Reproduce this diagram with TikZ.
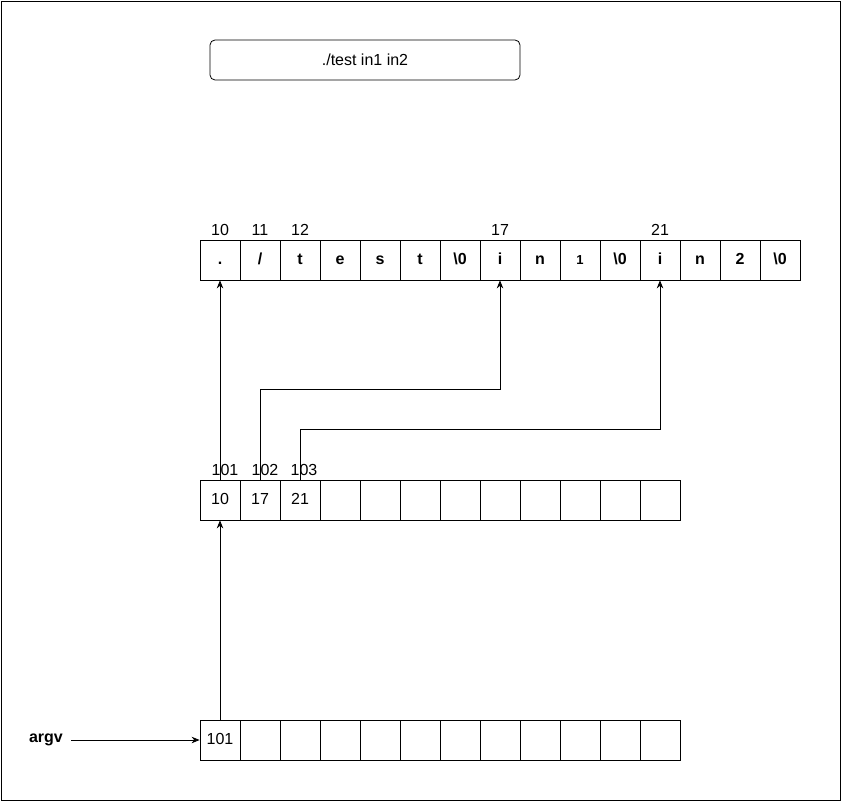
\documentclass[tikz,border=0pt]{standalone}
\usepackage{fontspec}
\setmainfont{Liberation Sans}
\usetikzlibrary{arrows.meta}
\begin{document}
\begin{tikzpicture}[x=1pt,y=-1pt,
  fnt/.style={font=\fontsize{16}{18}\selectfont},
  cell/.style={draw,line width=0.8pt,minimum width=40pt,minimum height=40pt,inner sep=0pt,text height=11.5pt,text depth=3.5pt,fnt},
  bcell/.style={cell,font=\fontsize{16}{18}\selectfont\bfseries},
  lbl/.style={inner sep=0pt,fnt},
  arr/.style={-{Stealth[length=8pt,width=6.5pt]},line width=0.8pt}]
\useasboundingbox (0,0) rectangle (842,802);
\draw[line width=0.8pt] (1,1) rectangle (840,800);
\node[draw,line width=0.8pt,rounded corners=5pt,minimum width=310pt,minimum height=40pt,fnt] (cmd) at (365,60) {./test in1 in2};
% top row
\foreach \t [count=\i from 0] in {.,/,t,e,s,t,{\textbackslash0},i,n,{\fontsize{13}{15}\selectfont 1},{\textbackslash0},i,n,2,{\textbackslash0}}
  \node[bcell] (t\i) at (220+40*\i,260) {\t};
% middle row
\foreach \t [count=\i from 0] in {10,17,21,,,,,,,,,}
  \node[cell] (m\i) at (220+40*\i,500) {\t};
% bottom row
\foreach \t [count=\i from 0] in {101,,,,,,,,,,,}
  \node[cell] (b\i) at (220+40*\i,740) {\t};
% labels
\node[lbl] (l10) at (220,230) {10};
\node[lbl] (l11) at (260,230) {11};
\node[lbl] (l12) at (300,230) {12};
\node[lbl] (l17) at (500,230) {17};
\node[lbl] (l21) at (660,230) {21};
\node[lbl] (l101) at (225,470) {101};
\node[lbl] (l102) at (265,470) {102};
\node[lbl] (l103) at (304,470) {103};
\node[inner sep=0pt,font=\fontsize{16}{18}\selectfont\bfseries] (argv) at (46,740) {argv};
% arrows
\draw[arr] (m0.north) -- (t0.south);
\draw[arr] (m1.north) -- ++(0,-90) -| (t7.south);
\draw[arr] (m2.north) -- ++(0,-50) -| (t11.south);
\draw[arr] (b0.north) -- (m0.south);
\draw[arr] ([xshift=8pt]argv.east) -- (b0.west);
\end{tikzpicture}
\end{document}
